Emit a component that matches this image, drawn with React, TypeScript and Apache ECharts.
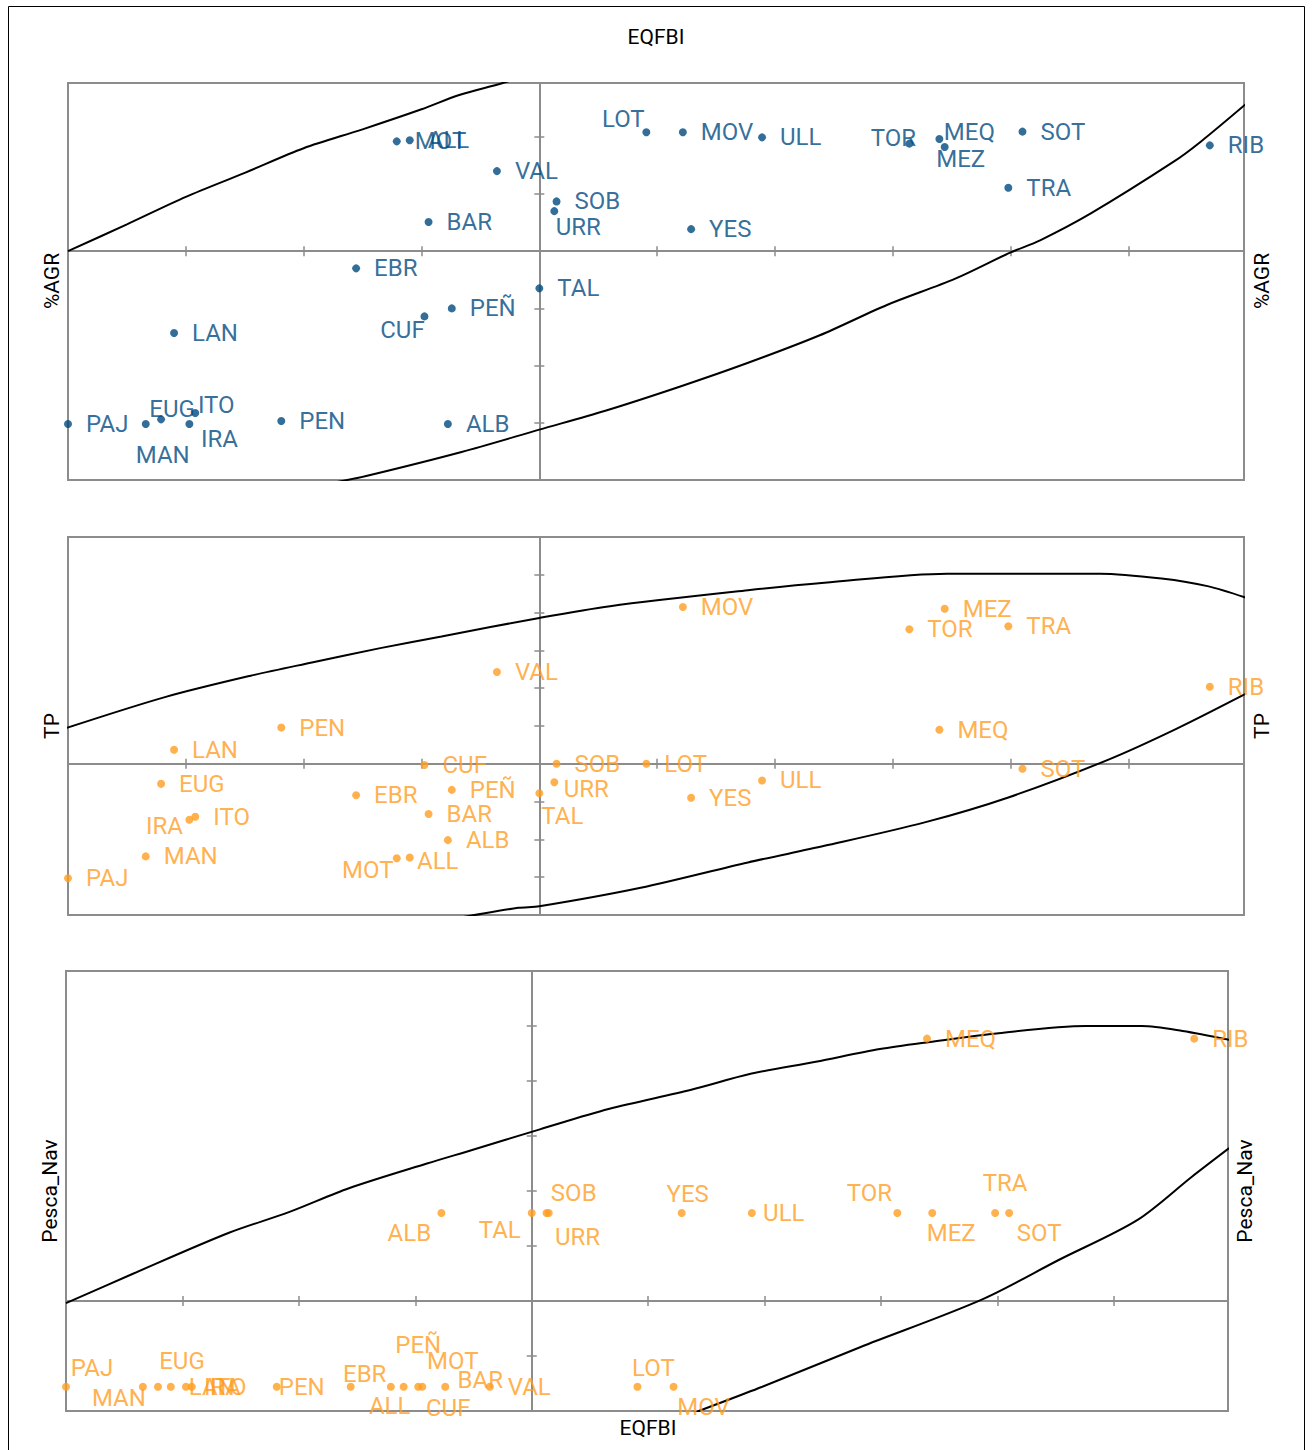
import React, { useEffect, useRef } from 'react';
import * as echarts from 'echarts';

// ---------- data ----------
const sites = ['PAJ', 'MAN', 'EUG', 'LAN', 'IRA', 'ITO', 'PEN', 'EBR', 'MOT', 'ALL', 'CUF', 'BAR', 'ALB', 'PEÑ', 'VAL', 'TAL', 'URR', 'SOB', 'LOT', 'MOV', 'YES', 'ULL', 'TOR', 'MEQ', 'MEZ', 'TRA', 'SOT', 'RIB'];
const eqfbi = [-4.0, -3.34, -3.21, -3.1, -2.97, -2.92, -2.19, -1.555, -1.21, -1.1, -0.975, -0.94, -0.776, -0.743, -0.36, 0.0, 0.127, 0.146, 0.908, 1.218, 1.288, 1.89, 3.14, 3.395, 3.44, 3.98, 4.1, 5.69];
const agr = [-3.02, -3.02, -2.94, -1.43, -3.02, -2.83, -2.97, -0.3, 1.92, 1.94, -1.14, 0.51, -3.02, -1.0, 1.4, -0.65, 0.7, 0.87, 2.08, 2.08, 0.385, 1.99, 1.88, 1.96, 1.82, 1.11, 2.09, 1.85];
const tp = [-3.03, -2.45, -0.53, 0.37, -1.48, -1.4, 0.96, -0.83, -2.5, -2.48, -0.03, -1.33, -2.02, -0.69, 2.43, -0.78, -0.49, 0.0, 0.0, 4.15, -0.9, -0.44, 3.56, 0.9, 4.1, 3.64, -0.13, 2.04];
const pescaNav = [-1.56, -1.56, -1.56, -1.56, -1.56, -1.56, -1.56, -1.56, -1.56, -1.56, -1.56, -1.56, 1.6, -1.56, -1.56, 1.6, 1.6, 1.6, -1.56, -1.56, 1.6, 1.6, 1.6, 4.77, 1.6, 1.6, 1.6, 4.77];

// envelope curves (x, y)
const agrCurveUpper: number[][] = [[-4, 0], [-3.5, 0.47], [-3, 0.95], [-2.5, 1.37], [-2, 1.8], [-1.5, 2.13], [-1, 2.48], [-0.68, 2.73], [-0.31, 2.94], [0, 3.15]];
const agrCurveLower: number[][] = [[-2.0, -4.15], [-1.73, -4.04], [-1.47, -3.93], [-0.66, -3.51], [0, -3.12], [0.56, -2.79], [1.19, -2.37], [1.76, -1.96], [2.38, -1.47], [2.95, -0.94], [3.53, -0.48], [3.99, -0.03], [4.25, 0.19], [4.68, 0.66], [5.38, 1.56], [5.61, 1.91], [6.0, 2.58]];
const tpCurveUpper: number[][] = [[-4.01, 0.95], [-3.17, 1.77], [-2.45, 2.33], [-1.93, 2.68], [-1.35, 3.06], [-0.83, 3.37], [0, 3.86], [0.6, 4.17], [1.77, 4.59], [2.42, 4.79], [3.46, 5.03], [4.76, 5.03], [5.28, 4.9], [5.67, 4.7], [6.0, 4.39]];
const tpCurveLower: number[][] = [[-0.9, -4.15], [-0.7, -4.08], [-0.18, -3.81], [0, -3.77], [0.86, -3.28], [1.77, -2.61], [2.42, -2.17], [3.27, -1.55], [3.98, -0.89], [4.83, 0.11], [5.41, 0.93], [6.0, 1.86]];
const pescaCurveUpper: number[][] = [[-4, -0.04], [-3.42, 0.5], [-2.6, 1.24], [-2.08, 1.62], [-1.57, 2.05], [-0.9, 2.5], [-0.505, 2.75], [0.07, 3.12], [0.66, 3.49], [1.37, 3.84], [1.88, 4.13], [2.44, 4.35], [2.99, 4.58], [3.42, 4.71], [4.01, 4.87], [4.76, 5.0], [5.24, 5.0], [5.59, 4.91], [5.99, 4.75]];
const pescaCurveLower: number[][] = [[1.2, -2.2], [1.35, -2.07], [1.98, -1.56], [2.82, -0.84], [3.86, 0.02], [4.53, 0.75], [5.2, 1.47], [5.67, 2.26], [5.99, 2.78]];

// ---------- label placement (offset of label centre from point, px); others sit to the right ----------
const agrLabelOffsets: Record<string, number[]> = {
  LOT: [-23, -13], TOR: [-16, -6], MEQ: [30, -7], MEZ: [16, 12], URR: [24, 16], CUF: [-22, 14],
  MAN: [17, 31], EUG: [11, -10], ITO: [21, -8], IRA: [30, 15],
};
const tpLabelOffsets: Record<string, number[]> = {
  URR: [32, 7], TAL: [23, 23], IRA: [-25, 6], MOT: [-29, 12], ALL: [28, 3],
};
const pescaLabelOffsets: Record<string, number[]> = {
  PAJ: [26, -19], MAN: [-24, 11], EUG: [24, -26], PEN: [25, 0], EBR: [14, -13], ALL: [-14, 19],
  MOT: [62, -26], 'PEÑ': [-27, -42], CUF: [30, 21], BAR: [58, -7], LOT: [16, -19], MOV: [30, 20],
  ALB: [-32, 20], TAL: [-32, 17], SOB: [25, -20], URR: [31, 24], YES: [6, -19], ULL: [32, 0],
  TOR: [-28, -20], MEZ: [19, 20], TRA: [10, -30], SOT: [30, 20],
};

const BLUE = '#004a7f';
const ORANGE = '#ff9d21';
const GRAY = '#8c8c8c';
const FONT = 'Roboto, "Liberation Sans", sans-serif';
const SYMBOL = 8;

function buildPoints(ys: number[], offsets: Record<string, number[]>) {
  return sites.map((name, i) => {
    const off = offsets[name];
    const item: any = { name, value: [eqfbi[i], ys[i]] };
    if (off) {
      item.label = {
        position: [SYMBOL / 2 + off[0], SYMBOL / 2 + off[1]],
        align: 'center', verticalAlign: 'middle',
      };
    }
    return item;
  });
}

const grids = [
  { left: 68, top: 83, width: 1176, height: 397, ymin: -4, ymax: 2.94 },
  { left: 68, top: 537, width: 1176, height: 378, ymin: -4, ymax: 6 },
  { left: 66, top: 971, width: 1162, height: 440, ymin: -2, ymax: 6 },
];

export default function App() {
  const ref = useRef<HTMLDivElement>(null);
  useEffect(() => {
    if (!ref.current) return;
    const chart = echarts.init(ref.current, undefined, { renderer: 'svg' });

    const xAxes: any[] = [];
    const yAxes: any[] = [];
    grids.forEach((g, gi) => {
      ['bottom', 'top'].forEach((pos) => {
        xAxes.push({
          type: 'value', gridIndex: gi, position: pos, min: -4, max: 5.98, interval: 1,
          axisLine: { show: true, onZero: true, onZeroAxisIndex: gi * 2, lineStyle: { color: GRAY, width: 2 } },
          axisTick: { show: true, length: 5, lineStyle: { color: GRAY, width: 1.5 } },
          axisLabel: { show: false }, splitLine: { show: false },
        });
      });
      ['left', 'right'].forEach((pos) => {
        yAxes.push({
          type: 'value', gridIndex: gi, position: pos, min: g.ymin, max: g.ymax, interval: 1,
          axisLine: { show: true, onZero: true, onZeroAxisIndex: gi * 2, lineStyle: { color: GRAY, width: 2 } },
          axisTick: { show: true, length: 5, lineStyle: { color: GRAY, width: 1.5 } },
          axisLabel: { show: false }, splitLine: { show: false },
        });
      });
    });

    const curveSeries = (data: number[][], gi: number) => ({
      type: 'line', xAxisIndex: gi * 2, yAxisIndex: gi * 2, data, showSymbol: false, symbol: 'none',
      smooth: 0.3, clip: true, silent: true, z: 1,
      lineStyle: { color: '#000', width: 2 },
    });
    const pointSeries = (ys: number[], offs: Record<string, number[]>, gi: number, color: string) => ({
      type: 'scatter', xAxisIndex: gi * 2, yAxisIndex: gi * 2, symbol: 'circle', symbolSize: SYMBOL, z: 3,
      itemStyle: { color },
      data: buildPoints(ys, offs),
      label: {
        show: true, position: 'right', distance: 14, formatter: (p: any) => p.name,
        color, fontFamily: FONT, fontSize: 24,
      },
    });

    const titleStyle = { fill: '#000', fontFamily: FONT, fontSize: 21, align: 'center', verticalAlign: 'middle' };
    const vText = (text: string, x: number, y: number) => ({
      type: 'text', x, y, rotation: Math.PI / 2, style: { ...titleStyle, text },
    });

    chart.setOption({
      animation: false,
      backgroundColor: '#fff',
      grid: grids.map((g) => ({
        left: g.left, top: g.top, width: g.width, height: g.height, show: true,
        borderColor: GRAY, borderWidth: 2, containLabel: false,
      })),
      xAxis: xAxes,
      yAxis: yAxes,
      series: [
        curveSeries(agrCurveUpper, 0), curveSeries(agrCurveLower, 0),
        curveSeries(tpCurveUpper, 1), curveSeries(tpCurveLower, 1),
        curveSeries(pescaCurveUpper, 2), curveSeries(pescaCurveLower, 2),
        pointSeries(agr, agrLabelOffsets, 0, BLUE),
        pointSeries(tp, tpLabelOffsets, 1, ORANGE),
        pointSeries(pescaNav, pescaLabelOffsets, 2, ORANGE),
      ],
      graphic: [
        { type: 'rect', shape: { x: 8.5, y: 6.5, width: 1296, height: 1450 }, style: { fill: 'none', stroke: '#000', lineWidth: 1 }, z: 0 },
        { type: 'text', x: 656, y: 37, style: { ...titleStyle, text: 'EQFBI' } },
        { type: 'text', x: 648, y: 1428, style: { ...titleStyle, text: 'EQFBI' } },
        vText('%AGR', 52, 281),
        vText('%AGR', 1262, 281),
        vText('TP', 52, 726),
        vText('TP', 1262, 726),
        vText('Pesca_Nav', 50, 1191),
        vText('Pesca_Nav', 1245, 1191),
      ],
    });
    return () => chart.dispose();
  }, []);
  return <div ref={ref} style={{ position: 'absolute', left: 0, top: 0, width: 1314, height: 1450 }} />;
}
